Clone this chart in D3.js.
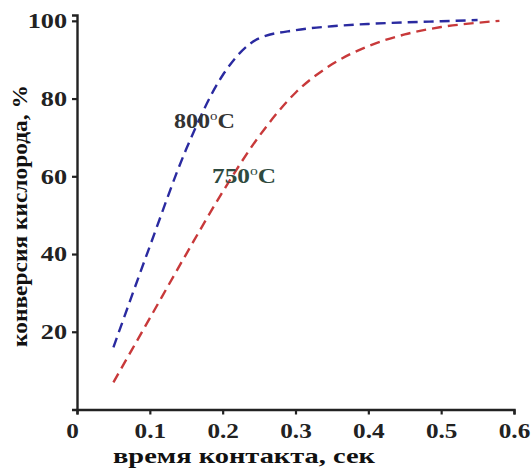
<!DOCTYPE html>
<html>
<head>
<meta charset="utf-8">
<script src="https://cdn.jsdelivr.net/npm/d3@7"></script>
<style>
  body { margin: 0; background: #fff; }
  text { font-family: "Liberation Serif", "Times New Roman", serif; font-weight: bold; }
</style>
</head>
<body>
<div id="chart"></div>
<script>
// данные
var times = [0.05, 0.1, 0.15, 0.2, 0.25, 0.3, 0.35, 0.4, 0.45, 0.5, 0.55];
var conv800 = [16, 42, 67, 86, 95.5, 97.6, 98.6, 99.2, 99.6, 99.9, 100.2];
var times750 = [0.05, 0.1, 0.15, 0.2, 0.25, 0.3, 0.35, 0.4, 0.45, 0.5, 0.55, 0.58];
var conv750 = [7, 23.5, 40, 56, 70.3, 81.5, 88.8, 93.5, 96.5, 98.4, 99.5, 100];
var xTicks = [0, 0.1, 0.2, 0.3, 0.4, 0.5, 0.6];
var yTicks = [20, 40, 60, 80, 100];

var W = 531, H = 471;

var svg = d3.select("#chart").append("svg")
    .attr("width", W)
    .attr("height", H);

var x = d3.scaleLinear().domain([0, 0.6]).range([77, 514]);
var y = d3.scaleLinear().domain([0, 101.5]).range([409.5, 15]);

// оси
var gx = svg.append("g")
    .attr("transform", "translate(0,409.5)")
    .call(d3.axisBottom(x).tickValues(xTicks).tickSizeOuter(0).tickSize(5).tickPadding(9)
        .tickFormat(function(d){ return d === 0 ? "0" : d3.format(".1f")(d); }));

var gy = svg.append("g")
    .attr("transform", "translate(77,0)")
    .call(d3.axisLeft(y).tickValues(yTicks).tickSizeOuter(0).tickSize(5));

[gx, gy].forEach(function(g){
    g.select(".domain").attr("stroke", "#222").attr("stroke-width", 2.4);
    g.selectAll(".tick line").attr("stroke", "#222").attr("stroke-width", 2.2);
    g.selectAll(".tick text").attr("fill", "#222").style("font-size", "21px")
        .style("font-family", "'Liberation Serif', serif").style("font-weight", "bold");
});

gx.selectAll(".tick text")
    .attr("transform", function(d){ return "scale(1.2,1)"; })
    .attr("x", function(d){ return d === 0 ? -5 / 1.2 : 0; })
    .attr("dy", "0.71em");

gy.selectAll(".tick text")
    .attr("transform", "scale(1.25,1)")
    .attr("x", -10 / 1.25);

// подписи осей
svg.append("text")
    .attr("x", 244)
    .attr("y", 463)
    .attr("text-anchor", "middle")
    .attr("textLength", 262)
    .attr("lengthAdjust", "spacingAndGlyphs")
    .style("font-size", "22px")
    .attr("fill", "#111")
    .text("время контакта, сек");

svg.append("text")
    .attr("transform", "translate(27,216) rotate(-90)")
    .attr("text-anchor", "middle")
    .attr("textLength", 262)
    .attr("lengthAdjust", "spacingAndGlyphs")
    .style("font-size", "22px")
    .attr("fill", "#111")
    .text("конверсия кислорода, %");

// кривые
var line = d3.line()
    .x(function(d){ return x(d[0]); })
    .y(function(d){ return y(d[1]); })
    .curve(d3.curveMonotoneX);

svg.append("path")
    .datum(times750.map(function(t, i){ return [t, conv750[i]]; }))
    .attr("d", line)
    .attr("fill", "none")
    .attr("stroke", "#c8393a")
    .attr("stroke-width", 2.4)
    .attr("stroke-dasharray", "10,6");

svg.append("path")
    .datum(times.map(function(t, i){ return [t, conv800[i]]; }))
    .attr("d", line)
    .attr("fill", "none")
    .attr("stroke", "#2a2aa0")
    .attr("stroke-width", 2.4)
    .attr("stroke-dasharray", "10,6");

// подписи температур
function tempLabel(px, py, num, col, len){
    var t = svg.append("text")
        .attr("x", px)
        .attr("y", py)
        .attr("fill", col)
        .attr("textLength", len)
        .attr("lengthAdjust", "spacingAndGlyphs")
        .style("font-size", "21px");
    t.append("tspan").text(num);
    t.append("tspan").attr("dy", -8).style("font-size", "13px").style("font-weight", "normal").text("o");
    t.append("tspan").attr("dy", 8).text("C");
}
tempLabel(174, 128, "800", "#333", 61);
tempLabel(212, 183, "750", "#2e4a40", 64);
</script>
</body>
</html>
